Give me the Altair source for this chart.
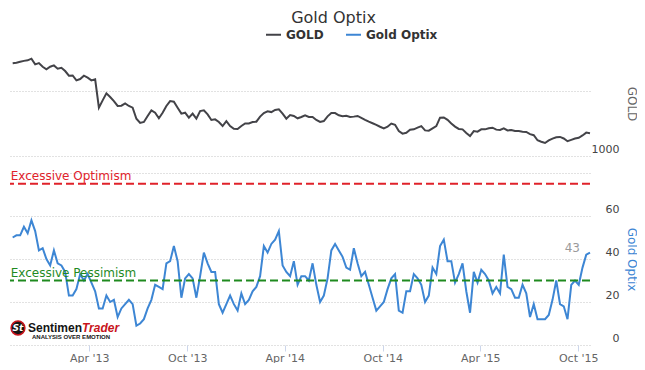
import altair as alt
import pandas as pd

# ---------------- data (weekly) ----------------
FIRST_WEEK = "2012-11-09"

gold = [
    1714, 1718, 1725, 1732, 1736, 1749, 1705, 1715, 1687, 1667,
    1687, 1697, 1672, 1679, 1654, 1618, 1620, 1582, 1592, 1618,
    1603, 1582, 1590, 1372, 1428, 1482, 1454, 1423, 1385, 1387,
    1405, 1385, 1372, 1287, 1254, 1262, 1308, 1351, 1333, 1290,
    1333, 1385, 1423, 1418, 1372, 1326, 1333, 1295, 1326, 1287,
    1346, 1351, 1320, 1277, 1282, 1262, 1231, 1269, 1231, 1210,
    1208, 1231, 1251, 1251, 1262, 1264, 1303, 1331, 1344, 1338,
    1354, 1359, 1326, 1287, 1315, 1308, 1290, 1300, 1313, 1300,
    1300, 1277, 1262, 1269, 1305, 1330, 1330, 1313, 1306, 1309,
    1301, 1303, 1308, 1293, 1278, 1264, 1252, 1240, 1225, 1213,
    1225, 1250, 1240, 1192, 1172, 1179, 1202, 1205, 1218, 1230,
    1197, 1195, 1213, 1230, 1295, 1297, 1278, 1250, 1226, 1208,
    1205, 1177, 1154, 1192, 1187, 1205, 1205, 1213, 1218, 1203,
    1200, 1213, 1197, 1200, 1192, 1192, 1187, 1185, 1168, 1160,
    1121, 1110, 1100, 1120, 1134, 1144, 1147, 1135, 1114, 1124,
    1134, 1140, 1158, 1180, 1175,
]

optix = [
    50, 51, 51, 55, 52, 58, 53, 44, 45, 40,
    37, 44, 38, 37, 34, 23, 23, 26, 33, 30,
    33, 29, 25, 17, 17, 23, 20, 21, 13, 17,
    19, 21, 19, 9, 10, 12, 17, 21, 28, 27,
    26, 38, 39, 46, 39, 22, 31, 33, 31, 22,
    32, 43, 38, 34, 34, 19, 15, 19, 23, 19,
    16, 24, 19, 21, 25, 27, 32, 46, 43, 47,
    49, 53, 37, 34, 32, 39, 28, 32, 32, 30,
    38, 28, 20, 23, 31, 44, 47, 44, 41, 36,
    35, 45, 38, 32, 34, 28, 22, 16, 18, 20,
    26, 31, 33, 16, 15, 25, 25, 33, 31, 28,
    20, 23, 36, 33, 46, 49, 39, 39, 29, 33,
    38, 25, 15, 34, 29, 35, 33, 30, 24, 27,
    24, 42, 27, 26, 22, 22, 28, 24, 13, 19,
    12, 12, 12, 14, 21, 30, 19, 18, 12, 28,
    30, 28, 36, 42, 43,
]

series_names = ["GOLD", "Gold Optix"]
excess_levels = [75, 30]
excess_labels = ["Excessive Optimism", "Excessive Pessimism"]

x_ticks = [(2013, 4, 1), (2013, 10, 1), (2014, 4, 1), (2014, 10, 1), (2015, 4, 1), (2015, 10, 1)]
x_range = [(2012, 11, 4), (2015, 10, 23)]
gold_ticks = [1000, 1500]
gold_range = [1000, 1808]
optix_ticks = [0, 20, 40, 60, 80]
optix_range = [0, 80]

# ---------------- styles ----------------
GOLD_C = "#434348"
OPTIX_C = "#3d86d4"
RED = "#e0222a"
GREEN = "#1f8a1f"
FONT = "DejaVu Sans"
LOGO_FONT = "Liberation Sans"

dates = pd.date_range(FIRST_WEEK, periods=len(gold), freq="7D")
gold_df = pd.DataFrame({"date": dates, "value": gold, "series": series_names[0]})
optix_df = pd.DataFrame({"date": dates, "value": optix, "series": series_names[1]})
last_df = optix_df.tail(1)
band_df = pd.DataFrame({"date": [dates[0]] * 2, "level": excess_levels, "label": excess_labels})

def dt(t):
    return alt.DateTime(year=t[0], month=t[1], date=t[2])

xscale = alt.Scale(domain=[dt(x_range[0]), dt(x_range[1])])
color_scale = alt.Scale(domain=series_names, range=[GOLD_C, OPTIX_C])
legend = alt.Legend(
    orient="none", legendX=255, legendY=-25, direction="horizontal", title=None,
    symbolType="stroke", symbolStrokeWidth=2, symbolSize=225,
    labelFont=FONT, labelFontSize=12, labelFontWeight="bold", labelColor="#333333",
    columnPadding=18, labelOffset=4,
)

W = 580

y_axis_common = dict(
    orient="right", grid=True, gridColor="#c4c4c4", gridDash=[1, 2], gridWidth=1,
    domain=False, ticks=False, tickSize=0, labelAlign="right", labelPadding=29,
    labelBaseline="alphabetic", labelOffset=-4, labelFont=FONT, labelFontSize=11,
    labelColor="#444444", titleFont=FONT, titleFontSize=12, titleFontWeight="normal",
    titlePadding=5,
)

top = alt.Chart(gold_df).mark_line(strokeWidth=2).encode(
    x=alt.X("date:T", scale=xscale, axis=None),
    y=alt.Y("value:Q",
            scale=alt.Scale(domain=gold_range, nice=False, zero=False),
            axis=alt.Axis(values=gold_ticks, format="d",
                          labelExpr="datum.value < 1200 ? datum.label : ''",
                          title="GOLD", titleColor="#666666", **y_axis_common)),
    color=alt.Color("series:N", scale=color_scale, legend=legend),
).properties(width=W, height=105)

x_axis = alt.Axis(values=[dt(t) for t in x_ticks], format="%b '%y", grid=False,
                  domain=False, ticks=True, tickColor="#ccd6eb", tickSize=6,
                  labelPadding=1, labelFont=FONT, labelFontSize=11, labelColor="#666666",
                  title=None)

optix_line = alt.Chart(optix_df).mark_line(strokeWidth=2).encode(
    x=alt.X("date:T", scale=xscale, axis=x_axis),
    y=alt.Y("value:Q",
            scale=alt.Scale(domain=optix_range, nice=False),
            axis=alt.Axis(values=optix_ticks,
                          labelExpr="datum.value < 70 ? datum.label : ''",
                          title="Gold Optix", titleColor=OPTIX_C, **y_axis_common)),
    color=alt.Color("series:N", scale=color_scale, legend=legend),
)

layers = []
for lab, col, ddy in [(excess_labels[0], RED, -4), (excess_labels[1], GREEN, -3.5)]:
    sub = band_df[band_df["label"] == lab]
    layers.append(alt.Chart(sub).mark_rule(color=col, strokeWidth=2, strokeDash=[8, 4]).encode(
        y=alt.Y("level:Q")))
    layers.append(alt.Chart(sub).mark_text(align="left", baseline="alphabetic", dx=-2, dy=ddy,
                                           font=FONT, fontSize=12, color=col).encode(
        x=alt.X("date:T"), y=alt.Y("level:Q"), text="label:N"))

last_label = alt.Chart(last_df).mark_text(align="right", baseline="middle", dx=-10, dy=-5,
                                          font=FONT, fontSize=12, color="#9a9a9a").encode(
    x="date:T", y="value:Q", text="value:Q")

# SentimenTrader logo (decoration)
logo_df = pd.DataFrame({"k": [0]})
logo = [
    alt.Chart(logo_df).mark_point(filled=True, shape="circle", size=190, color="#161616",
                                  stroke="#c8141c", strokeWidth=1.5, opacity=1).encode(
        x=alt.value(8), y=alt.value(155)),
    alt.Chart(logo_df).mark_text(font=FONT, fontSize=9, fontWeight="bold", fontStyle="italic",
                                 color="white", align="center", baseline="middle").encode(
        x=alt.value(8), y=alt.value(155), text=alt.value("St")),
    alt.Chart(logo_df).mark_text(font=LOGO_FONT, fontSize=12, fontWeight="bold", color="#141414",
                                 align="left", baseline="alphabetic").encode(
        x=alt.value(18), y=alt.value(159), text=alt.value("Sentimen")),
    alt.Chart(logo_df).mark_text(font=LOGO_FONT, fontSize=12, fontWeight="bold", fontStyle="italic",
                                 color="#c8141c", align="left", baseline="alphabetic").encode(
        x=alt.value(72), y=alt.value(159), text=alt.value("Trader")),
    alt.Chart(logo_df).mark_text(font=LOGO_FONT, fontSize=6, fontWeight="bold", color="#141414",
                                 align="left", baseline="alphabetic").encode(
        x=alt.value(22), y=alt.value(166), text=alt.value("ANALYSIS OVER EMOTION")),
]

bottom = alt.layer(optix_line, *layers, last_label, *logo).properties(width=W, height=172)

chart = alt.vconcat(top, bottom, spacing=13).resolve_scale(y="independent").properties(
    title=alt.TitleParams("Gold Optix", font=FONT, fontSize=16, fontWeight="normal",
                          color="#333333", anchor="middle", dx=11, offset=0),
    padding={"left": 0, "top": 2, "right": 0, "bottom": 0},
).configure(font=FONT, background="white").configure_view(stroke=None)

chart.save("out.html", embed_options={"renderer": "svg", "actions": False})
